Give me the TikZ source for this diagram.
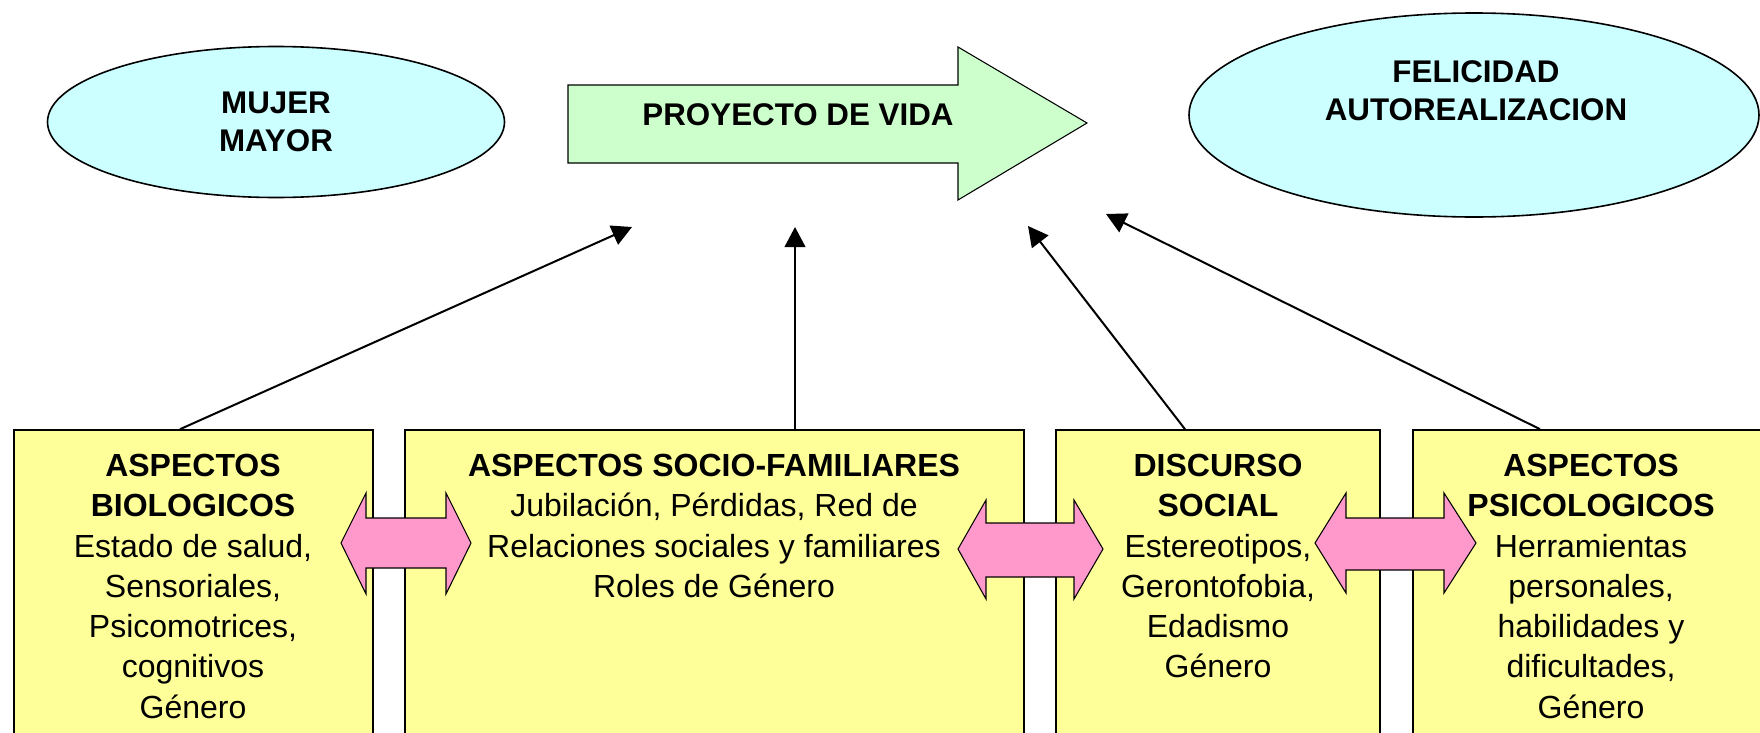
\documentclass[tikz,border=0pt]{standalone}
\usepackage{fontspec}
\setmainfont{Liberation Sans}
\usetikzlibrary{shapes.geometric,arrows.meta,fit}

\begin{document}
\begin{tikzpicture}[x=0.75pt,y=0.75pt,yscale=-1,xscale=1,
  ovalo/.style={ellipse,draw=black,line width=1.2pt,fill={rgb, 255:red, 204; green, 255; blue, 255 },inner sep=0pt},
  caja/.style={rectangle,draw=black,line width=1.2pt,fill={rgb, 255:red, 255; green, 255; blue, 153 },inner sep=0pt},
  titulo/.style={font=\bfseries\fontsize{23.5}{28.5}\selectfont,align=center,inner sep=0pt},
  texto/.style={font=\fontsize{24}{30.2}\selectfont,align=center,inner sep=0pt,anchor=north},
  flecha/.style={line width=1.5pt,-{Triangle[length=15pt,width=15.5pt]}},
  doble/.style={draw=black,line width=0.8pt,fill={rgb, 255:red, 255; green, 153; blue, 204 }}]
%set diagram to the size of the page
\useasboundingbox (0,0) rectangle (1760,732);

%Shape: Ellipse
\node [ovalo,minimum width=342.75pt,minimum height=113.25pt,titulo] (mujer) at (276,122) {MUJER\\MAYOR};
%Shape: Ellipse
\node [ovalo,minimum width=427.5pt,minimum height=153pt] (felicidad) at (1474,115) {};
% Text Node
\node [titulo] (felicidadTxt) at (1476,91) {FELICIDAD\\AUTOREALIZACION};

%Shape: Right Arrow
\draw [line width=0.8pt,fill={rgb, 255:red, 204; green, 255; blue, 204 }] (568,85) -- (958,85) -- (958,47) -- (1087,123) -- (958,200) -- (958,163) -- (568,163) -- cycle ;
% Text Node
\node [titulo] (proyecto) at (798,115) {PROYECTO DE VIDA};

%Shape: Rectangle
\node [caja,fit={(14,430) (373,760)}] (bio) {};
\node [caja,fit={(405,430) (1024,760)}] (socio) {};
\node [caja,fit={(1056,430) (1380,760)}] (discurso) {};
\node [caja,fit={(1413,430) (1770,760)}] (psico) {};

%Shape: Left-Right Arrow
\draw [doble] (341,543) -- (366,493) -- (366,518) -- (446,518) -- (446,493) -- (471,543) -- (446,594) -- (446,568) -- (366,568) -- (366,594) -- cycle ;
\draw [doble] (958,549) -- (986,500) -- (986,523) -- (1074,523) -- (1074,500) -- (1103,549) -- (1074,599) -- (1074,577) -- (986,577) -- (986,599) -- cycle ;
\draw [doble] (1315,543) -- (1346,493) -- (1346,518) -- (1444,518) -- (1444,493) -- (1476,543) -- (1444,593) -- (1444,570) -- (1346,570) -- (1346,593) -- cycle ;

% Text Node
\node [texto] (bioTxt) at (193,454) {\textbf{ASPECTOS}\\\textbf{BIOLOGICOS}\\Estado de salud,\\Sensoriales,\\Psicomotrices,\\cognitivos\\Género};
% Text Node
\node [texto] (socioTxt) at (714,454) {\textbf{ASPECTOS SOCIO-FAMILIARES}\\Jubilación, Pérdidas, Red de\\Relaciones sociales y familiares\\Roles de Género};
% Text Node
\node [texto] (discursoTxt) at (1218,454) {\textbf{DISCURSO}\\\textbf{SOCIAL}\\Estereotipos,\\Gerontofobia,\\Edadismo\\Género};
% Text Node
\node [texto] (psicoTxt) at (1591,454) {\textbf{ASPECTOS}\\\textbf{PSICOLOGICOS}\\Herramientas\\personales,\\habilidades y\\dificultades,\\Género};

%Straight Lines
\coordinate (tipBio) at (632,227);
\coordinate (tipSocio) at (795,227);
\coordinate (tipDiscurso) at (1028,226);
\coordinate (tipPsico) at (1106,214);
\draw [flecha] (bio.north -| 180,0) -- (tipBio);
\draw [flecha] (socio.north -| 795,0) -- (tipSocio);
\draw [flecha] (discurso.north -| 1185,0) -- (tipDiscurso);
\draw [flecha] (psico.north -| 1540,0) -- (tipPsico);
\end{tikzpicture}
\end{document}
